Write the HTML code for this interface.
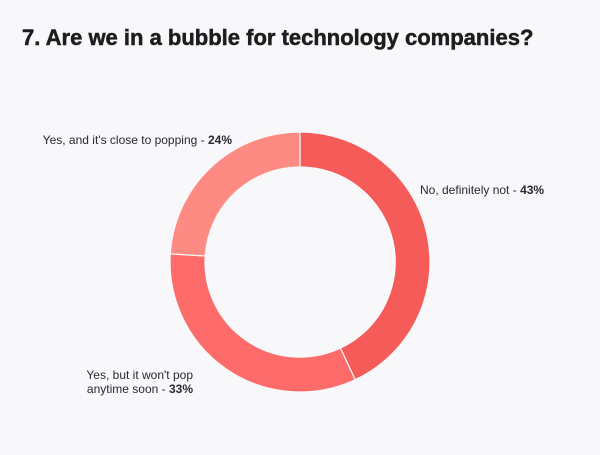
<!DOCTYPE html>
<html><head><style>
body{margin:0;width:600px;height:450px;background:#f8f8fa;overflow:hidden;font-family:"Liberation Sans",sans-serif;}
</style></head><body>
<svg width="600" height="450" viewBox="0 0 600 450" xmlns="http://www.w3.org/2000/svg">
<rect width="600" height="450" fill="#f8f8fa"/>
<text x="22" y="45" font-family="Liberation Sans, sans-serif" font-weight="bold" font-size="22" fill="#1d1d1f" stroke="#1d1d1f" stroke-width="0.5">7. Are we in a bubble for technology companies?</text>
<g transform="translate(300,262)" stroke="#f8f8fa" stroke-width="1.2">
<path d="M0,-130 A130,130 0 0 1 55.2,117.7 L40.4,86.1 A95,95 0 0 0 0,-95 Z" fill="#f55b59"/>
<path d="M55.2,117.7 A130,130 0 0 1 -129.7,-8.2 L-94.8,-6.0 A95,95 0 0 0 40.4,86.1 Z" fill="#fd6b6b"/>
<path d="M-129.7,-8.2 A130,130 0 0 1 0,-130 L0,-95 A95,95 0 0 0 -94.8,-6.0 Z" fill="#fe8a84"/>
</g>
<g font-family="Liberation Sans, sans-serif" font-size="12" fill="#2a2a2e">
<text x="232" y="144" text-anchor="end">Yes, and it's close to popping - <tspan font-weight="bold">24%</tspan></text>
<text x="420" y="194">No, definitely not - <tspan font-weight="bold">43%</tspan></text>
<text x="193" y="379" text-anchor="end">Yes, but it won't pop</text>
<text x="193" y="393" text-anchor="end">anytime soon - <tspan font-weight="bold">33%</tspan></text>
</g>
</svg>
</body></html>
